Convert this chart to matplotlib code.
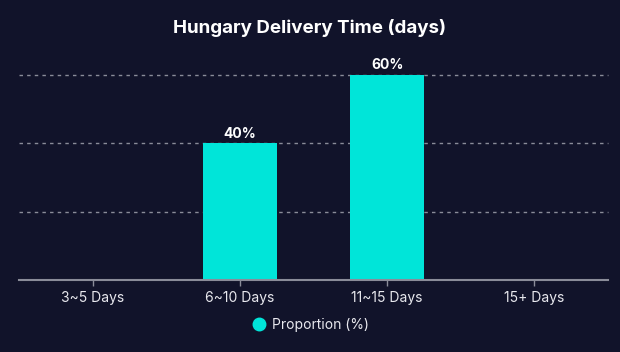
import matplotlib
matplotlib.use("Agg")
import matplotlib.pyplot as plt
from matplotlib.lines import Line2D

plt.rcParams['font.family'] = ['Inter', 'DejaVu Sans']

# data
categories = ["3~5 Days", "6~10 Days", "11~15 Days", "15+ Days"]
proportion = [0, 40, 60, 0]
series_name = "Proportion (%)"
title = "Hungary Delivery Time (days)"

bg = "#11132a"
bar_color = "#00e5d9"
grid_color = "#8a8c99"

fig = plt.figure(figsize=(6.2, 3.52), dpi=100)
fig.patch.set_facecolor(bg)
ax = fig.add_axes([19 / 620, 1 - 280 / 352, 589 / 620, 205 / 352])
ax.set_facecolor(bg)

x = list(range(len(categories)))
bars = ax.bar(x, proportion, width=0.5, color=bar_color, zorder=3)

# labels on top of bars
for xi, v in zip(x, proportion):
    if v > 0:
        ax.text(xi, v + 0.8, f"{v}%", ha="center", va="bottom",
                color="white", fontsize=10, fontweight="bold", zorder=4)

ax.set_xlim(-0.5, len(categories) - 0.5)
ax.set_ylim(0, 60)
ax.set_yticks([20, 40, 60])
ax.yaxis.grid(True, linestyle=(0, (2.5, 3)), color=grid_color, linewidth=1, clip_on=False)
ax.tick_params(axis="y", left=False, labelleft=False)
ax.set_xticks(x)
ax.set_xticklabels(categories, color="#e8e8ee", fontsize=10)
ax.tick_params(axis="x", colors=grid_color, length=4, width=1, pad=4, labelcolor="#e8e8ee")

for s in ["top", "right", "left"]:
    ax.spines[s].set_visible(False)
ax.spines["bottom"].set_color(grid_color)
ax.spines["bottom"].set_linewidth(1.5)
ax.spines["bottom"].set_zorder(5)

fig.text(0.5, 1 - 28 / 352, title, ha="center", va="center",
         color="white", fontsize=13.5, fontweight="bold")

handle = Line2D([], [], marker="o", linestyle="", markersize=9,
                markerfacecolor=bar_color, markeredgecolor=bar_color)
fig.legend([handle], [series_name], loc="center", bbox_to_anchor=(0.5, 1 - 325 / 352),
           frameon=False, labelcolor="#e8e8ee", fontsize=10,
           handletextpad=0.3, handlelength=1.2)

fig.savefig("out.png", dpi=100, facecolor=bg)
